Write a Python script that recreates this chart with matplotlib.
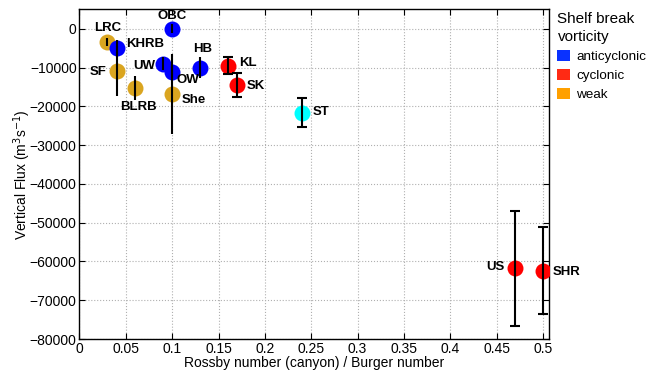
import matplotlib
matplotlib.use("Agg")
import matplotlib.pyplot as plt
from matplotlib.patches import Patch

plt.rcParams['font.family'] = ['Liberation Sans', 'DejaVu Sans']

# Canyon runs: name, Rossby/Burger number, vertical flux, error, vorticity class
names = ["LRC", "KHRB", "SF", "BLRB", "OBC", "UW", "OW", "She", "HB", "KL", "SK", "ST", "US", "SHR"]
ro = [0.03, 0.04, 0.04, 0.06, 0.10, 0.09, 0.10, 0.10, 0.13, 0.16, 0.17, 0.24, 0.47, 0.50]
flux = [-3400, -4900, -10900, -15300, 0, -9000, -11100, -16800, -10000, -9600, -14500, -21600, -61800, -62400]
err = [1000, 2000, 6400, 3200, 1200, 1600, 1500, 10300, 2800, 2200, 3100, 3700, 14800, 11200]
kind = ["weak", "anti", "weak", "weak", "anti", "anti", "anti", "weak", "anti", "cyc", "cyc", "other", "cyc", "cyc"]
capped = [False, False, False, False, False, False, False, False, False, True, True, True, True, True]

# label offsets (pixels) and alignment
label_pos = {
    "LRC": (0, 14, "center"), "KHRB": (10, 4, "left"), "SF": (-10, -1, "right"),
    "BLRB": (3, -19, "center"), "OBC": (0, 13, "center"), "UW": (-8, -2, "right"),
    "OW": (4, -8, "left"), "She": (9, -6, "left"), "HB": (3, 19, "center"),
    "KL": (11, 3, "left"), "SK": (10, -1, "left"), "ST": (11, 1, "left"),
    "US": (-11, 1, "right"), "SHR": (10, -1, "left"),
}

marker_colors = {"anti": "#0000ff", "cyc": "#ff0000", "weak": "#daa520", "other": "#00ffff"}
legend_labels = ["anticyclonic", "cyclonic", "weak"]
legend_colors = ["#0a32ff", "#ff2a14", "#ffa000"]

fig = plt.figure(figsize=(6.5, 3.73), dpi=100)
ax = fig.add_axes([0.1223, 0.091, 0.7223, 0.884])

for x, y, e, k, c in zip(ro, flux, err, kind, capped):
    ax.plot(x, y, "o", ms=11.5, color=marker_colors[k], mec="none", zorder=3)
    ax.errorbar(x, y, yerr=e, fmt="none", ecolor="black", elinewidth=1.5,
                capsize=3.5 if c else 0, capthick=1.5, zorder=4)

for n, x, y in zip(names, ro, flux):
    dx, dy, ha = label_pos[n]
    ax.annotate(n, (x, y), xytext=(dx, dy), textcoords="offset pixels",
                ha=ha, va="center", fontsize=9.5, fontweight="bold", zorder=5)

ax.set_xlim(0, 0.5065)
ax.set_ylim(-80000, 5000)
ax.set_xticks([0, 0.05, 0.1, 0.15, 0.2, 0.25, 0.3, 0.35, 0.4, 0.45, 0.5])
ax.set_xticklabels(["0", "0.05", "0.1", "0.15", "0.2", "0.25", "0.3", "0.35", "0.4", "0.45", "0.5"])
ax.set_yticks(range(-80000, 1, 10000))
ax.grid(True, linestyle=":", color="#b0b0b0", linewidth=0.8)
ax.set_axisbelow(True)
ax.tick_params(direction="in", top=True, right=True, labelsize=10, length=4, width=0.8, pad=2)
for s in ax.spines.values():
    s.set_linewidth(1.0)

ax.set_xlabel("Rossby number (canyon) / Burger number", fontsize=10, labelpad=0)
ax.set_ylabel("Vertical Flux (m$^3$s$^{-1}$)", fontsize=10, labelpad=-2.5)

handles = [Patch(facecolor=c, edgecolor="none") for c in legend_colors]
leg = ax.legend(handles, legend_labels, title="Shelf break\nvorticity", loc="upper left",
                bbox_to_anchor=(0.998, 1.022), frameon=False, fontsize=9.7,
                title_fontsize=11, handlelength=0.9, handleheight=0.9,
                handletextpad=0.5, labelspacing=0.42, borderpad=0.2)
leg.get_title().set_linespacing(1.45)
leg._legend_box.align = "left"

fig.savefig("out.png", dpi=100)
